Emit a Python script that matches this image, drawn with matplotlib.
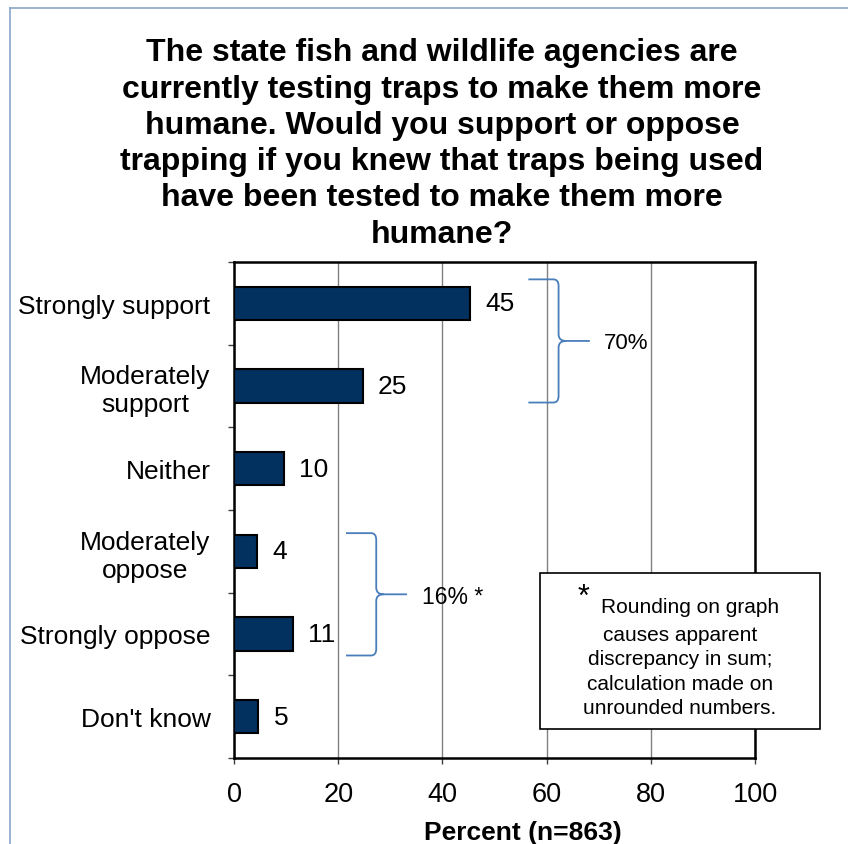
import numpy as np
import matplotlib
matplotlib.use("Agg")
import matplotlib.pyplot as plt
from matplotlib.path import Path
from matplotlib.patches import PathPatch, Rectangle
from matplotlib.lines import Line2D

plt.rcParams['font.family'] = ['Liberation Sans', 'DejaVu Sans']

# data (unrounded bar lengths, rounded labels shown)
categories = ['Strongly support', 'Moderately\nsupport', 'Neither',
              'Moderately\noppose', 'Strongly oppose', "Don't know"]
percents = [45.3, 24.7, 9.6, 4.4, 11.3, 4.7]
x_ticks = [0, 20, 40, 60, 80, 100]

title = ("The state fish and wildlife agencies are\n"
         "currently testing traps to make them more\n"
         "humane. Would you support or oppose\n"
         "trapping if you knew that traps being used\n"
         "have been tested to make them more\n"
         "humane?")
note_first = "Rounding on graph"
note_rest = "causes apparent\ndiscrepancy in sum;\ncalculation made on\nunrounded numbers."

W, H = 848, 845
fig = plt.figure(figsize=(W / 100, H / 100), dpi=100)
ax = fig.add_axes([234 / W, 1 - 759 / H, (755 - 234) / W, (759 - 263) / H])

y_pos = np.arange(len(categories))
ax.barh(y_pos, percents, height=0.4, color='#02305f', edgecolor='black',
        linewidth=1.5, zorder=3)

for y, v in zip(y_pos, percents):
    ax.annotate(f"{v:.0f}", (v, y), xytext=(11, 0), textcoords='offset points',
                ha='left', va='center', fontsize=19)

ax.set_xlim(0, 100)
ax.set_ylim(len(categories) - 0.5, -0.5)
ax.set_xticks(x_ticks)
ax.set_xticklabels([str(t) for t in x_ticks], fontsize=19.5)
ax.set_yticks(y_pos)
ax.set_yticklabels(categories, fontsize=19)
for lab in ax.get_yticklabels():
    lab.set_multialignment('center')
ax.set_yticks(np.arange(-0.5, len(categories), 1), minor=True)
ax.tick_params(axis='y', which='major', length=0, pad=17)
ax.tick_params(axis='y', which='minor', length=4.5, width=1, color='#404040')
ax.tick_params(axis='x', which='major', length=4.5, width=1, color='#404040', pad=12)

ax.xaxis.grid(True, color='#808080', linewidth=1.0)
ax.set_axisbelow(True)
for sp in ax.spines.values():
    sp.set_linewidth(1.8)
    sp.set_color('black')

ax.set_xlabel("Percent (n=863)", fontsize=19, fontweight='bold')
ax.xaxis.set_label_coords((523 - 234) / 521, -(833 - 759) / 496)
ax.xaxis.label.set_va('center')


def brace(x0, x1, x2, ya, yb):
    rx, ry = 1.0, 0.08
    tx = 1.4
    ym = (ya + yb) / 2
    verts = [(x0, ya), (x1 - rx, ya), (x1, ya), (x1, ya + ry),
             (x1, ym - ry), (x1, ym), (x1 + tx, ym), (x2, ym),
             (x1 + tx, ym), (x1, ym), (x1, ym + ry),
             (x1, yb - ry), (x1, yb), (x1 - rx, yb), (x0, yb)]
    codes = [Path.MOVETO, Path.LINETO, Path.CURVE3, Path.CURVE3,
             Path.LINETO, Path.CURVE3, Path.CURVE3, Path.LINETO,
             Path.MOVETO, Path.CURVE3, Path.CURVE3,
             Path.LINETO, Path.CURVE3, Path.CURVE3, Path.LINETO]
    ax.add_patch(PathPatch(Path(verts, codes), facecolor='none',
                           edgecolor='#4a7ebb', linewidth=1.3,
                           clip_on=False, zorder=4))


brace(56.5, 62.3, 68.3, -0.29, 1.2)
ax.text(71, 0.47, "70%", fontsize=16, ha='left', va='center', zorder=5)
brace(21.5, 27.3, 33.2, 2.78, 4.26)
ax.text(36.1, 3.55, "16% *", fontsize=16.5, ha='left', va='center', zorder=5)

# title
fig.text(442 / W, 1 - 144 / H, title, ha='center', va='center',
         fontsize=23, fontweight='bold', linespacing=1.27)

# footnote box
fig.patches.append(Rectangle((540 / W, 1 - 730 / H), 280 / W, 156 / H,
                             transform=fig.transFigure, facecolor='white',
                             edgecolor='black', linewidth=1.2, zorder=5))
fig.text(584 / W, 1 - 598 / H, "*", fontsize=22, ha='center', va='center', zorder=6)
fig.text(690 / W, 1 - 608 / H, note_first, fontsize=15, ha='center', va='center', zorder=6)
fig.text(680 / W, 1 - 672 / H, note_rest, fontsize=15, ha='center', va='center',
         linespacing=1.35, zorder=6)

# outer frame edges
fig.add_artist(Line2D([10 / W, 1], [1 - 9 / H, 1 - 9 / H], color='#8aa4c8', linewidth=1.2))
fig.add_artist(Line2D([10 / W, 10 / W], [0, 1 - 9 / H], color='#8aa4c8', linewidth=1.2))

fig.savefig("out.png", dpi=100)
